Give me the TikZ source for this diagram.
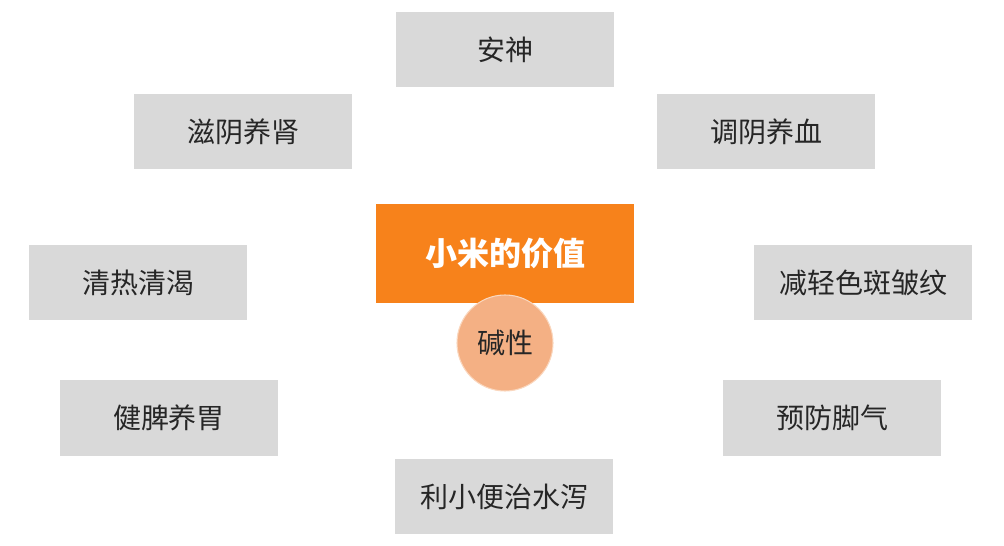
\documentclass[tikz,border=0pt]{standalone}
\usepackage{fontspec}
\setmainfont{Noto Sans CJK SC}
\begin{document}
\begin{tikzpicture}[x=0.75pt,y=-0.75pt,
  gbox/.style={fill=gray!30,font=\fontsize{22}{26}\selectfont,text=black!85}]
\useasboundingbox (0,0) rectangle (1004,546);
\newcommand{\bx}[6]{\fill[gray!30] (#2,#3) rectangle (#4,#5); \node[font=\fontsize{21}{26}\selectfont,text=black!85] (#1) at ({(#2+#4)/2},{(#3+#5)/2}) {#6};}
\bx{a}{396}{12}{614}{87}{安神}
\bx{b}{134}{94}{352}{169}{滋阴养肾}
\bx{c}{657}{94}{875}{169}{调阴养血}
\bx{d}{29}{245}{247}{320}{清热清渴}
\bx{e}{754}{245}{972}{320}{减轻色斑皱纹}
\bx{f}{60}{380}{278}{456}{健脾养胃}
\bx{g}{723}{380}{941}{456}{预防脚气}
\bx{h}{395}{459}{613}{534}{利小便治水泻}
\fill[color={rgb,255:red,247;green,130;blue,27}] (376,204) rectangle (634,303);
\node[text=white,font=\fontsize{24}{28}\selectfont\bfseries] (m) at (505,253) {小米的价值};
\filldraw[fill={rgb,255:red,244;green,176;blue,132},draw={rgb,255:red,250;green,215;blue,190},line width=0.8pt] (505,343) circle (48);
\node[font=\fontsize{21}{26}\selectfont,text=black!85] (k) at (505,343) {碱性};
\end{tikzpicture}
\end{document}
